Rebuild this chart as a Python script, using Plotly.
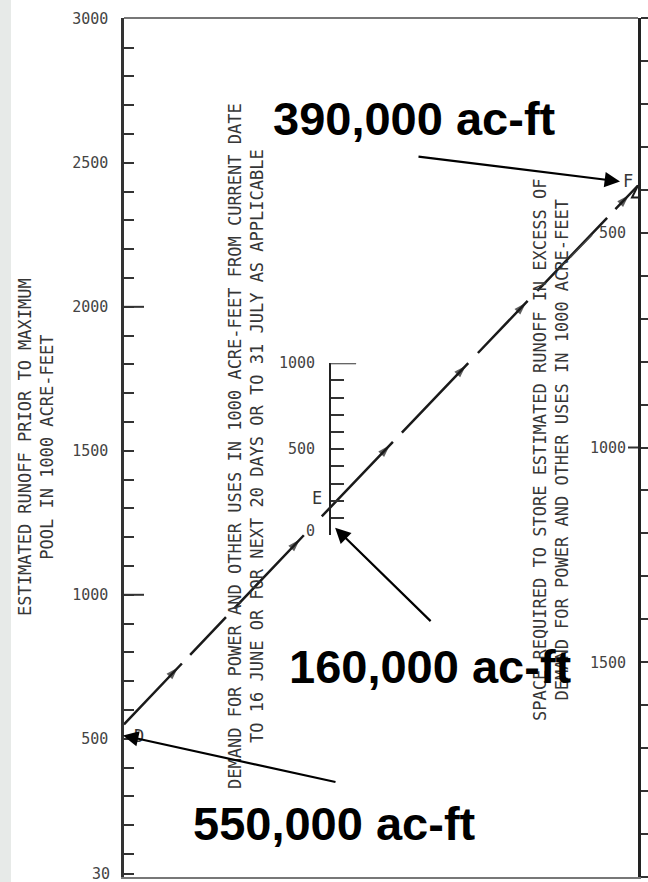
import plotly.graph_objects as go

# ---- Nomograph scales (values in 1000 acre-feet) ----
RUNOFF_TICKS = [500, 1000, 1500, 2000, 2500, 3000]
RUNOFF_LABELS = ["500", "1000", "1500", "2000", "2500", "3000"]
RUNOFF_BOTTOM_TICK = 30
RUNOFF_BOTTOM_LABEL = "30"
RUNOFF_LONG_TICKS = [1000, 2000]

DEMAND_TICKS = [0, 500, 1000]
DEMAND_LABELS = ["0", "500", "1000"]

SPACE_TICKS = [500, 1000, 1500]
SPACE_LABELS = ["500", "1000", "1500"]

# ---- Worked example: runoff (D), demand (E), space required (F) ----
POINT_NAMES = ["D", "E", "F"]
POINT_VALUES = [550, 160, 390]
CALLOUTS = ["550,000 ac-ft", "160,000 ac-ft", "390,000 ac-ft"]

# ---- Scale geometry ----
W, H = 648, 882
M_L, M_R, M_T, M_B = 124, 10, 18, 5
PLOT_W = W - M_L - M_R
PLOT_H = H - M_T - M_B

RUNOFF_RANGE = [20, 3003]
SPACE_RANGE = [2000, 0]
DEMAND_RANGE = [0, 1000]
DEMAND_DOMAIN = [0.398, 0.598]
DEMAND_POS = 0.401

MONO = "DejaVu Sans Mono"
BOLD = "Liberation Sans, Arial"
INK = "#1a1a1a"
PRINT = "#363636"


def to_frac(v, rng, dom=(0.0, 1.0)):
    """Position of value v on a linear scale, as a fraction of the plot height."""
    return dom[0] + (v - rng[0]) / (rng[1] - rng[0]) * (dom[1] - dom[0])


def px_x(p):
    return (p - M_L) / PLOT_W


def px_y(p):
    return (H - M_B - p) / PLOT_H


d_val, e_val, f_val = POINT_VALUES
xs = [0.0, DEMAND_POS, 1.0]
ys = [
    to_frac(d_val, RUNOFF_RANGE),
    to_frac(e_val, DEMAND_RANGE, DEMAND_DOMAIN),
    to_frac(f_val, SPACE_RANGE),
]


def on_index_line(x):
    """Point on the D-E-F index line at horizontal fraction x."""
    if x <= xs[1]:
        t = (x - xs[0]) / (xs[1] - xs[0])
        return ys[0] + t * (ys[1] - ys[0])
    t = (x - xs[1]) / (xs[2] - xs[1])
    return ys[1] + t * (ys[2] - ys[1])


fig = go.Figure()

# Index line drawn as a broken line from D through E to F
fig.add_trace(go.Scatter(
    x=xs, y=ys, xaxis="x", yaxis="y4", mode="lines",
    line=dict(color=INK, width=2.5,
              dash="84px,12px,52px,12px,101px,26px,103px,13px,96px,14px,72px,14px,101px,12px,40px"),
    hoverinfo="skip", showlegend=False,
))

# Direction arrowheads along the index line
arrow_x = [0.0, 0.105, 0.342, 0.517, 0.665, 0.782, 0.982]
fig.add_trace(go.Scatter(
    x=arrow_x, y=[on_index_line(x) for x in arrow_x], xaxis="x", yaxis="y4",
    mode="markers",
    marker=dict(symbol="arrow", angleref="previous",
                size=[0] + [13] * (len(arrow_x) - 1), color=INK,
                line=dict(width=0)),
    hoverinfo="skip", showlegend=False,
))

# Caret on the space scale at F
fig.add_trace(go.Scatter(
    x=[1.0], y=[f_val], xaxis="x", yaxis="y2", mode="markers",
    marker=dict(symbol="arrow-up-open", size=12, color=INK, line=dict(width=2, color=INK)),
    hoverinfo="skip", showlegend=False,
))

# Anchor trace for the demand scale
fig.add_trace(go.Scatter(
    x=[DEMAND_POS], y=[e_val], xaxis="x", yaxis="y3", mode="markers",
    marker=dict(size=1, opacity=0), hoverinfo="skip", showlegend=False,
))

tick_font = dict(family=MONO, size=15, color="#444")
TICK_COLOR = "#333"

fig.update_layout(
    width=W, height=H, autosize=False,
    margin=dict(l=M_L, r=M_R, t=M_T, b=M_B),
    paper_bgcolor="white", plot_bgcolor="rgba(0,0,0,0)",
    showlegend=False,
    xaxis=dict(range=[0, 1], domain=[0, 1], showgrid=False, zeroline=False,
               showticklabels=False, ticks="", showline=True,
               linecolor="#777", linewidth=2, automargin=False),
    yaxis=dict(range=RUNOFF_RANGE, tickvals=RUNOFF_TICKS + [RUNOFF_BOTTOM_TICK],
               ticktext=RUNOFF_LABELS + [""],
               ticks="inside", ticklen=10, tickwidth=2, tickcolor=TICK_COLOR,
               minor=dict(dtick=100, tick0=0, ticks="inside", ticklen=10,
                          tickwidth=2, tickcolor=TICK_COLOR),
               showline=True, linewidth=2.5, linecolor="#333",
               showgrid=False, zeroline=False, tickfont=tick_font,
               ticklabelstandoff=10, automargin=False),
    yaxis2=dict(overlaying="y", side="right", range=SPACE_RANGE,
                tickvals=SPACE_TICKS, ticktext=SPACE_LABELS,
                ticks="outside", ticklen=10, tickwidth=2, tickcolor=TICK_COLOR,
                minor=dict(dtick=100, tick0=0, ticks="outside", ticklen=10,
                           tickwidth=2, tickcolor=TICK_COLOR),
                ticklabelposition="inside", ticklabelstandoff=12,
                showline=True, linewidth=3, linecolor="#222",
                showgrid=False, zeroline=False, tickfont=tick_font, automargin=False),
    yaxis3=dict(anchor="free", position=DEMAND_POS, domain=DEMAND_DOMAIN,
                range=DEMAND_RANGE, side="left",
                tickvals=DEMAND_TICKS, showticklabels=False,
                ticks="inside", ticklen=13, tickwidth=2, tickcolor=TICK_COLOR,
                minor=dict(dtick=100, tick0=0, ticks="inside", ticklen=13,
                           tickwidth=2, tickcolor=TICK_COLOR),
                showline=True, linewidth=2, linecolor="#222",
                showgrid=False, zeroline=False, automargin=False),
    yaxis4=dict(overlaying="y", range=[0, 1], visible=False),
)

shapes = []
# Scanned page edge on the left
shapes.append(dict(type="rect", xref="paper", yref="paper",
                   x0=px_x(0), x1=px_x(11), y0=-0.02, y1=1.03,
                   fillcolor="#e7eae8", line=dict(width=0), layer="below"))
# Top border of the chart frame
shapes.append(dict(type="line", xref="paper", yref="paper",
                   x0=0, x1=1, y0=1, y1=1, line=dict(color="#777", width=2)))
# Longer ticks at the thousands on the runoff scale
for v in RUNOFF_LONG_TICKS:
    shapes.append(dict(type="line", xref="paper", yref="y",
                       x0=0, x1=20 / PLOT_W, y0=v, y1=v,
                       line=dict(color=TICK_COLOR, width=2)))
# Longer end tick on the demand scale
shapes.append(dict(type="line", xref="paper", yref="y3",
                   x0=DEMAND_POS, x1=DEMAND_POS + 26 / PLOT_W,
                   y0=DEMAND_RANGE[1], y1=DEMAND_RANGE[1],
                   line=dict(color=TICK_COLOR, width=2)))
# Cross tick at 1000 on the space scale
shapes.append(dict(type="line", xref="paper", yref="y2",
                   x0=1 - 10 / PLOT_W, x1=1, y0=1000, y1=1000,
                   line=dict(color=TICK_COLOR, width=2)))
# Leader from the 500 label on the space scale
shapes.append(dict(type="line", xref="paper", yref="y2",
                   x0=px_x(592), x1=px_x(570), y0=505, y1=558,
                   line=dict(color="#444", width=1.5)))
fig.update_layout(shapes=shapes)

ann = []
# Bottom label of the runoff scale
ann.append(dict(x=0, y=RUNOFF_BOTTOM_TICK, xref="paper", yref="y",
                text=RUNOFF_BOTTOM_LABEL, showarrow=False,
                xanchor="right", yanchor="middle", xshift=-12, font=tick_font))

# Demand scale labels, set to the left of its line
for v, lab in zip(DEMAND_TICKS, DEMAND_LABELS):
    ann.append(dict(x=DEMAND_POS, y=v, xref="x", yref="y3", text=lab,
                    showarrow=False, xanchor="right", yanchor="middle",
                    xshift=-13, yshift=4 if v == 0 else 0, font=tick_font))

# Scale titles (rotated)
title_font = dict(family=MONO, size=17, color=PRINT)
ann.append(dict(xref="paper", yref="paper", x=px_x(36), y=px_y(447),
                text="ESTIMATED RUNOFF PRIOR TO MAXIMUM<br>POOL IN 1000 ACRE-FEET",
                textangle=-90, showarrow=False, align="center",
                xanchor="center", yanchor="middle", font=title_font))
ann.append(dict(xref="paper", yref="paper", x=px_x(246), y=px_y(446),
                text=("DEMAND FOR POWER AND OTHER USES IN 1000 ACRE-FEET FROM CURRENT DATE"
                      "<br>TO 16 JUNE OR FOR NEXT 20 DAYS OR TO 31 JULY AS APPLICABLE"),
                textangle=-90, showarrow=False, align="center",
                xanchor="center", yanchor="middle", font=title_font))
ann.append(dict(xref="paper", yref="paper", x=px_x(551), y=px_y(450),
                text=("SPACE REQUIRED TO STORE ESTIMATED RUNOFF IN EXCESS OF"
                      "<br>DEMAND FOR POWER AND OTHER USES IN 1000 ACRE-FEET"),
                textangle=-90, showarrow=False, align="center",
                xanchor="center", yanchor="middle", font=title_font))

# Point letters on each scale
letter_font = dict(family=MONO, size=17, color=PRINT)
ann.append(dict(x=0, y=d_val, xref="x", yref="y", text=POINT_NAMES[0],
                showarrow=False, xshift=15, yshift=-12, font=letter_font))
ann.append(dict(x=DEMAND_POS, y=e_val, xref="x", yref="y3", text=POINT_NAMES[1],
                showarrow=False, xshift=-13, yshift=10, font=letter_font))
ann.append(dict(x=1, y=f_val, xref="x", yref="y2", text=POINT_NAMES[2],
                showarrow=False, xshift=-10, yshift=5, font=letter_font))

# Callout arrows pointing at each scale reading
arrow_style = dict(showarrow=True, text="", arrowhead=2, arrowsize=1.4,
                   arrowwidth=2.2, arrowcolor="black", standoff=0, startstandoff=0)
ann.append(dict(x=0, y=d_val, xref="x", yref="y", ax=214, ay=47,
                xshift=-1, yshift=-11, **arrow_style))
ann.append(dict(x=DEMAND_POS, y=e_val, xref="x", yref="y3", ax=97, ay=95,
                xshift=5, yshift=-20, **arrow_style))
ann.append(dict(x=1, y=f_val, xref="x", yref="y2", ax=-203, ay=-25,
                xshift=-18, yshift=4, **arrow_style))

# Callout texts
callout_font = dict(family=BOLD, size=47, color="black", weight="bold")
for text, (cx, cy) in zip(CALLOUTS, [(334, 823), (430, 666), (414, 119)]):
    ann.append(dict(xref="paper", yref="paper", x=px_x(cx), y=px_y(cy),
                    text=text, showarrow=False, xanchor="center", yanchor="middle",
                    font=callout_font))

fig.update_layout(annotations=ann)

fig.write_html("out.html")
